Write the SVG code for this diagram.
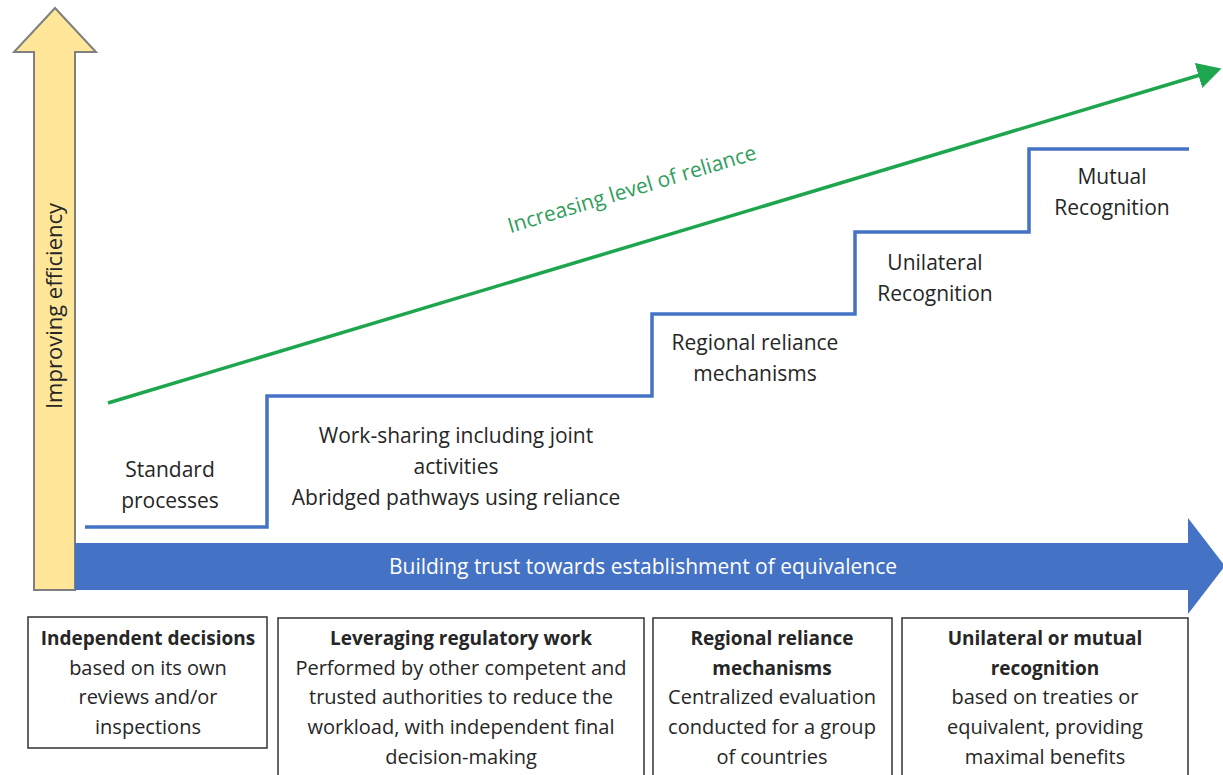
<svg xmlns="http://www.w3.org/2000/svg" width="1223" height="775" viewBox="0 0 1223 775">
  <style>
    .lbl { font-family: "Open Sans", "Noto Sans", "Liberation Sans", sans-serif; font-size: 21px; fill: #262626; text-anchor: middle; }
    .body { font-size: 20px; }
    .box { fill: #ffffff; stroke: #3f3f3f; stroke-width: 1.6; }
    .bold { font-weight: 700; font-size: 19px; }
    .stair { fill: none; stroke: #4472c4; stroke-width: 3.5; stroke-linejoin: miter; }
  </style>
  <defs>
    <marker id="greenHead" markerUnits="userSpaceOnUse" markerWidth="26" markerHeight="28" refX="12" refY="13" orient="auto">
      <path d="M0,0 L24,13 L0,26 Z" fill="#1ea64e"/>
    </marker>
  </defs>
  <rect width="1223" height="775" fill="#ffffff"/>

  <!-- vertical efficiency arrow -->
  <g id="efficiency-arrow">
    <polygon points="55,8 96,52 75,52 75,590 34,590 34,52 14,52" fill="#ffe699" stroke="#7f7f7f" stroke-width="2"/>
    <text class="lbl" transform="translate(62,306) rotate(-90)" style="font-size:22px">Improving efficiency</text>
  </g>

  <!-- horizontal trust arrow -->
  <g id="trust-arrow">
    <polygon points="75,543 1188,543 1188,518 1225,566 1188,614 1188,590 75,590" fill="#4472c4"/>
    <text class="lbl" x="643" y="574" style="fill:#ffffff">Building trust towards establishment of equivalence</text>
  </g>

  <!-- connectors: staircase and reliance trend -->
  <g id="connectors">
    <polyline class="stair" points="85,527 267,527 267,396 652,396 652,314 855,314 855,232 1029,232 1029,149 1189,149"/>
    <line x1="108" y1="403" x2="1210" y2="72" stroke="#1ea64e" stroke-width="3.5" marker-end="url(#greenHead)"/>
    <text class="lbl" transform="translate(634,196) rotate(-16.7)" style="fill:#2e9e5b">Increasing level of reliance</text>
  </g>

  <!-- step labels -->
  <g id="step-standard">
    <text class="lbl" x="170" y="477">Standard</text>
    <text class="lbl" x="170" y="508">processes</text>
  </g>
  <g id="step-worksharing">
    <text class="lbl" x="456" y="443">Work-sharing including joint</text>
    <text class="lbl" x="456" y="474">activities</text>
    <text class="lbl" x="456" y="505">Abridged pathways using reliance</text>
  </g>
  <g id="step-regional">
    <text class="lbl" x="755" y="350">Regional reliance</text>
    <text class="lbl" x="755" y="381">mechanisms</text>
  </g>
  <g id="step-unilateral">
    <text class="lbl" x="935" y="270">Unilateral</text>
    <text class="lbl" x="935" y="301">Recognition</text>
  </g>
  <g id="step-mutual">
    <text class="lbl" x="1112" y="184">Mutual</text>
    <text class="lbl" x="1112" y="215">Recognition</text>
  </g>

  <!-- category boxes -->
  <g id="box-independent">
    <rect class="box" x="28" y="617" width="239" height="131"/>
    <text class="lbl bold" x="148" y="645">Independent decisions</text>
    <text class="lbl body" x="148" y="675">based on its own</text>
    <text class="lbl body" x="148" y="704">reviews and/or</text>
    <text class="lbl body" x="148" y="734">inspections</text>
  </g>
  <g id="box-leveraging">
    <rect class="box" x="278" y="618" width="366" height="180"/>
    <text class="lbl bold" x="461" y="645">Leveraging regulatory work</text>
    <text class="lbl body" x="461" y="675">Performed by other competent and</text>
    <text class="lbl body" x="461" y="704">trusted authorities to reduce the</text>
    <text class="lbl body" x="461" y="734">workload, with independent final</text>
    <text class="lbl body" x="461" y="764">decision-making</text>
  </g>
  <g id="box-regional">
    <rect class="box" x="653" y="618" width="239" height="180"/>
    <text class="lbl bold" x="772" y="645">Regional reliance</text>
    <text class="lbl bold" x="772" y="675">mechanisms</text>
    <text class="lbl body" x="772" y="704">Centralized  evaluation</text>
    <text class="lbl body" x="772" y="734">conducted for a group</text>
    <text class="lbl body" x="772" y="764">of countries</text>
  </g>
  <g id="box-recognition">
    <rect class="box" x="902" y="618" width="286" height="180"/>
    <text class="lbl bold" x="1045" y="645">Unilateral or mutual</text>
    <text class="lbl bold" x="1045" y="675">recognition</text>
    <text class="lbl body" x="1045" y="704">based on treaties or</text>
    <text class="lbl body" x="1045" y="734">equivalent, providing</text>
    <text class="lbl body" x="1045" y="764">maximal  benefits</text>
  </g>
</svg>
